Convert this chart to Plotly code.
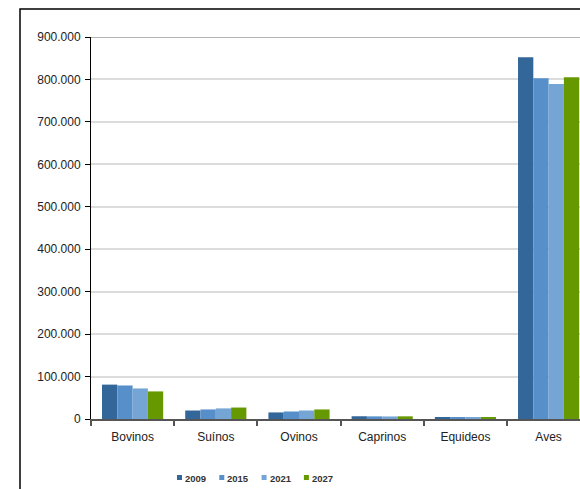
import plotly.graph_objects as go

# Livestock headcount by species and year
categories = ["Bovinos", "Suínos", "Ovinos", "Caprinos", "Equideos", "Aves"]
years = ["2009", "2015", "2021", "2027"]
values_2009 = [81000, 20000, 15500, 6500, 3800, 852000]
values_2015 = [79000, 22500, 17700, 6200, 3600, 803000]
values_2021 = [72000, 25000, 20000, 6000, 3400, 789000]
values_2027 = [65000, 27000, 22500, 6300, 3600, 805000]
series = [values_2009, values_2015, values_2021, values_2027]
colors = ["#336699", "#568fc9", "#75a5d5", "#669900"]
y_ticks = [0, 100000, 200000, 300000, 400000, 500000, 600000, 700000, 800000, 900000]

W, H = 580, 489
L, R, T, B = 91, 0, 37, 70
plot_w = W - L - R
plot_h = H - T - B


def px_x(p):
    return (p - L) / plot_w


def px_y(p):
    return (H - B - p) / plot_h


fig = go.Figure()
for name, vals, col in zip(years, series, colors):
    fig.add_trace(go.Bar(x=categories, y=vals, name=name, marker_color=col,
                         marker_line_width=0, showlegend=False))

font_family = "Liberation Sans, Arial, sans-serif"

shapes = [
    # top border line of the plot area
    dict(type="line", xref="paper", yref="y", x0=0, x1=1, y0=900000, y1=900000,
         line=dict(color="#9a9a9a", width=1.5), layer="above"),
    # outer chart frame
    dict(type="rect", xref="paper", yref="paper", x0=px_x(20), x1=1.2,
         y0=-0.5, y1=px_y(9), line=dict(color="#000000", width=1.5)),
]

annotations = []
leg_x0, leg_step, leg_y = 177, 42.3, 477.5
for i, (name, col) in enumerate(zip(years, colors)):
    mx = leg_x0 + i * leg_step
    shapes.append(dict(type="rect", xref="paper", yref="paper",
                       x0=px_x(mx), x1=px_x(mx + 5), y0=px_y(leg_y + 2.5), y1=px_y(leg_y - 2.5),
                       line=dict(width=0), fillcolor=col))
    annotations.append(dict(text=name, xref="paper", yref="paper", x=px_x(mx + 6), y=px_y(leg_y + 1),
                            xanchor="left", yanchor="middle", showarrow=False,
                            font=dict(family=font_family, size=9.5, color="#333333", weight="bold")))

fig.update_layout(
    width=W, height=H,
    margin=dict(l=L, r=R, t=T, b=B),
    paper_bgcolor="white", plot_bgcolor="white",
    barmode="group", bargap=0.265, bargroupgap=0,
    separators=",.",
    font=dict(family=font_family, size=12, color="#222222"),
    shapes=shapes, annotations=annotations,
    showlegend=False,
)
fig.update_xaxes(
    range=[-0.5, -0.5 + plot_w / 83.2],
    showline=True, linecolor="#555555", linewidth=2,
    ticks="outside", tickson="boundaries", ticklen=5, tickcolor="#555555", tickwidth=1.5,
    ticklabelstandoff=6,
    showgrid=False, zeroline=False,
    tickfont=dict(size=12, color="#222222"),
)
fig.update_yaxes(
    range=[0, 900000], tickvals=y_ticks, tickformat=",d",
    showline=True, linecolor="#000000", linewidth=1,
    ticks="outside", ticklen=5, tickcolor="#000000",
    ticklabelstandoff=2,
    showgrid=True, gridcolor="#dcdcdc", gridwidth=1.5,
    zeroline=False,
    tickfont=dict(size=12, color="#222222"),
)

fig.write_html("out.html")
